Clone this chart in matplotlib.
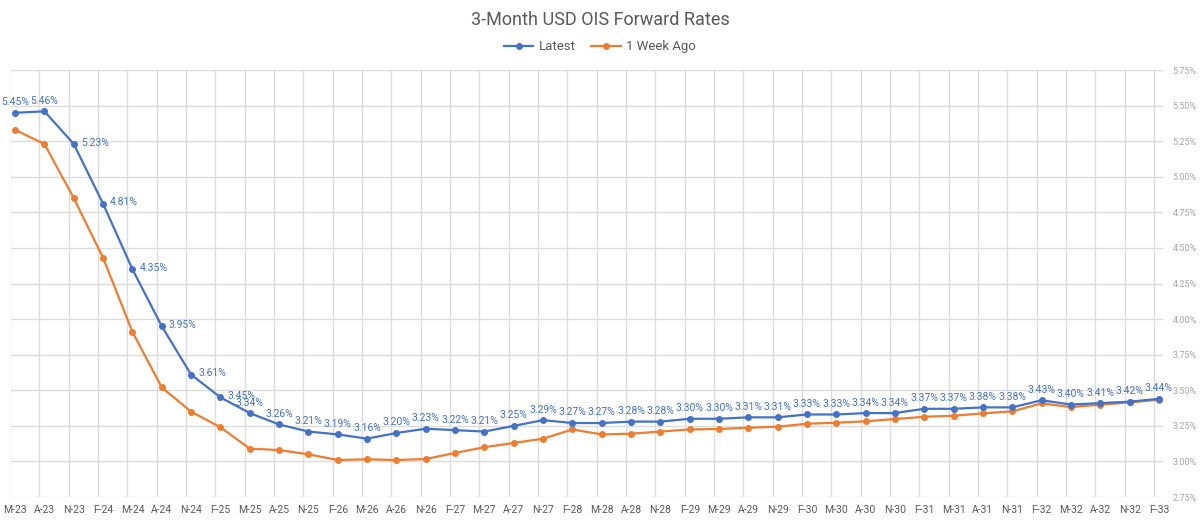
import matplotlib.pyplot as plt
from matplotlib.ticker import FuncFormatter

plt.rcParams["font.family"] = ["Roboto", "DejaVu Sans"]

# quarterly forward start dates, May-23 .. Feb-33
years = list(range(23, 34))
tick_labels = []
for yy in years:
    for m in ["F", "M", "A", "N"]:
        tick_labels.append("{}-{}".format(m, yy))
tick_labels = tick_labels[1:-3]

latest = [5.45, 5.46, 5.23, 4.81, 4.35, 3.95, 3.61, 3.45, 3.34, 3.26,
          3.21, 3.19, 3.16, 3.20, 3.23, 3.22, 3.21, 3.25, 3.29, 3.27,
          3.27, 3.28, 3.28, 3.30, 3.30, 3.31, 3.31, 3.33, 3.33, 3.34,
          3.34, 3.37, 3.37, 3.38, 3.38, 3.43, 3.40, 3.41, 3.42, 3.44]
week_ago = [5.33, 5.23, 4.85, 4.43, 3.91, 3.52, 3.35, 3.24, 3.09, 3.08,
            3.05, 3.01, 3.015, 3.01, 3.017, 3.06, 3.10, 3.13, 3.16, 3.225,
            3.19, 3.195, 3.21, 3.225, 3.228, 3.237, 3.244, 3.265, 3.272, 3.282,
            3.298, 3.314, 3.321, 3.338, 3.352, 3.408, 3.382, 3.399, 3.415, 3.434]

BLUE = "#4472C4"
ORANGE = "#ED7D31"
GRID = "#dcdcdc"

fig = plt.figure(figsize=(12, 5.21), dpi=100)
ax = fig.add_axes([0.0092, 0.046, 0.9600, 0.8195])

x = list(range(len(tick_labels)))
ax.plot(x, latest, "-o", color=BLUE, lw=1.6, ms=4, label="Latest", zorder=4)
ax.plot(x, week_ago, "-o", color=ORANGE, lw=1.6, ms=4, label="1 Week Ago", zorder=3)

# data labels on the latest curve
for i, v in enumerate(latest):
    txt = "{:.2f}%".format(v)
    if 2 <= i <= 7:
        ax.annotate(txt, (i, v), xytext=(5, 1), textcoords="offset points",
                    ha="left", va="center", fontsize=7.5, color=BLUE)
    else:
        ax.annotate(txt, (i, v), xytext=(0, 4), textcoords="offset points",
                    ha="center", va="bottom", fontsize=7.5, color=BLUE)

ax.set_xlim(-0.14, len(x) - 1 + 0.14)
ax.set_ylim(2.75, 5.75)
ax.set_yticks([2.75 + 0.25 * k for k in range(13)])
ax.yaxis.set_major_formatter(FuncFormatter(lambda v, p: "{:.2f}%".format(v)))
ax.yaxis.tick_right()
ax.tick_params(axis="y", length=0, pad=7, labelsize=6.5, labelcolor="#a6a6a6")
ax.set_xticks(x)
ax.set_xticklabels(tick_labels)
ax.tick_params(axis="x", length=0, pad=6, labelsize=7.5, labelcolor="#595959")

ax.grid(axis="y", color=GRID, lw=1)
for i in x:
    ax.axvline(i - 0.17, color=GRID, lw=1, zorder=0)
for s in ax.spines.values():
    s.set_visible(False)

fig.text(0.5, 0.962, "3-Month USD OIS Forward Rates", ha="center", va="center",
         fontsize=13, color="#595959")
fig.legend(loc="center", bbox_to_anchor=(0.5, 0.91), ncol=2, frameon=False,
           fontsize=9.5, labelcolor="#595959", handlelength=2.2, columnspacing=1.2,
           handletextpad=0.4)

fig.savefig("out.png", dpi=100)
